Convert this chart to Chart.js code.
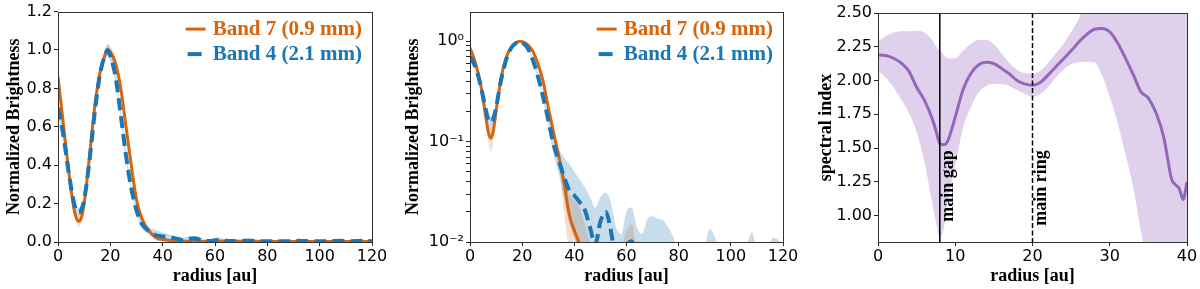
<!DOCTYPE html>
<html>
<head>
<meta charset="utf-8">
<script src="https://cdn.jsdelivr.net/npm/chart.js@4"></script>
<style>
  html, body { margin: 0; padding: 0; background: #fff; }
  #wrap { position: relative; width: 1200px; height: 289px; }
  canvas { position: absolute; top: 0; }
</style>
</head>
<body>
<div id="wrap">
  <canvas id="lin" width="400" height="289" style="left:0px"></canvas>
  <canvas id="log" width="400" height="289" style="left:400px"></canvas>
  <canvas id="alpha" width="400" height="289" style="left:800px"></canvas>
</div>
<script>
// radial profiles (normalized)
var radius = [0,2,4,6,7,8,9,10, 12,14,16,18,19,20,
  22,24,26,28,30,32,34,36,38,40,
  42,44,46,48,50,52,54,56,58,60,
  62,64,66,68,70,72,74,76,78,80,
  82,84,86,88,90,92,94,96,98,100,
  102,104,106,108,110,112,114,116,118,120];

var band7 = [0.86,0.62,0.38,0.18,0.125,0.108,0.13,0.20, 0.44,0.70,0.88,0.975,1.0,0.99,
  0.93,0.80,0.60,0.40,0.22,0.125,0.072,0.040,0.019,0.013,
  0.0095,0.006,0.0045,0.004,0.0035,0.0035,0.003,0.003,0.003,0.0035,
  0.004,0.003,0.003,0.003,0.003,0.003,0.003,0.003,0.003,0.003,
  0.003,0.003,0.003,0.003,0.003,0.003,0.003,0.003,0.003,0.003,
  0.003,0.003,0.003,0.003,0.003,0.003,0.003,0.003,0.003,0.003];
var band7Hi = [0.92,0.66,0.41,0.20,0.145,0.13,0.15,0.22, 0.47,0.73,0.91,1.0,1.03,1.02,
  0.96,0.83,0.63,0.42,0.235,0.135,0.08,0.046,0.030,0.026,
  0.022,0.015,0.010,0.008,0.007,0.007,0.007,0.008,0.009,0.013,
  0.015,0.008,0.006,0.005,0.005,0.005,0.005,0.005,0.005,0.005,
  0.005,0.005,0.005,0.005,0.005,0.005,0.005,0.005,0.005,0.005,
  0.005,0.005,0.005,0.005,0.005,0.005,0.005,0.005,0.005,0.005];
var band7Lo = [0.80,0.58,0.35,0.16,0.10,0.08,0.105,0.18, 0.41,0.67,0.85,0.95,0.97,0.96,
  0.90,0.77,0.57,0.38,0.205,0.115,0.062,0.020,0.008,0.004,
  0.002,0.001,0.001,0.001,0.001,0.001,0.001,0.001,0.001,0.001,
  0.001,0.001,0.001,0.001,0.001,0.001,0.001,0.001,0.001,0.001,
  0.001,0.001,0.001,0.001,0.001,0.001,0.001,0.001,0.001,0.001,
  0.001,0.001,0.001,0.001,0.001,0.001,0.001,0.001,0.001,0.001];

var band4 = [0.70,0.56,0.37,0.21,0.165,0.155,0.17,0.22, 0.42,0.67,0.87,0.975,1.0,0.97,
  0.86,0.66,0.45,0.28,0.165,0.095,0.065,0.045,0.033,0.029,
  0.025,0.021,0.014,0.0095,0.016,0.020,0.013,0.006,0.005,0.009,
  0.0102,0.006,0.005,0.004,0.005,0.006,0.006,0.005,0.004,0.004,
  0.004,0.004,0.004,0.004,0.005,0.006,0.005,0.004,0.004,0.004,
  0.004,0.004,0.005,0.006,0.004,0.004,0.005,0.006,0.005,0.004];
var band4Hi = [0.74,0.59,0.40,0.235,0.19,0.18,0.195,0.245, 0.45,0.70,0.90,1.0,1.03,1.0,
  0.89,0.69,0.48,0.30,0.185,0.12,0.085,0.07,0.06,0.05,
  0.042,0.035,0.028,0.022,0.028,0.031,0.025,0.014,0.012,0.020,
  0.022,0.014,0.012,0.017,0.018,0.017,0.0165,0.014,0.011,0.008,
  0.006,0.006,0.006,0.006,0.009,0.0135,0.011,0.008,0.006,0.006,
  0.006,0.007,0.009,0.0125,0.008,0.006,0.007,0.011,0.0105,0.009];
var band4Lo = [0.66,0.53,0.34,0.19,0.145,0.13,0.15,0.20, 0.39,0.64,0.84,0.95,0.97,0.94,
  0.83,0.63,0.42,0.26,0.145,0.075,0.048,0.028,0.016,0.011,
  0.008,0.005,0.003,0.002,0.003,0.004,0.002,0.001,0.001,0.001,
  0.001,0.001,0.001,0.001,0.001,0.001,0.001,0.001,0.001,0.001,
  0.001,0.001,0.001,0.001,0.001,0.001,0.001,0.001,0.001,0.001,
  0.001,0.001,0.001,0.001,0.001,0.001,0.001,0.001,0.001,0.001];

// spectral index
var radius3 = [0,0.2,1,2,3,4,5,6,7, 7.5,8,8.5,9,
  10,11,12,13,14,15,16,17,18,19,20,21,22,23,24,25,26,27,28,29,30,31,32,33,34,35,36,37,
  37.5,38,38.5,39,39.5,40];
var alpha = [2.19,2.19,2.185,2.165,2.13,2.07,1.95,1.855,1.72, 1.63,1.535,1.525,1.55,
  1.73,1.93,2.05,2.115,2.135,2.125,2.09,2.05,2.0,1.975,1.965,1.985,2.04,2.1,2.16,2.22,2.285,2.34,2.38,2.385,2.36,2.28,2.17,2.05,1.92,1.87,1.76,1.58,
  1.42,1.27,1.23,1.2,1.12,1.25];
var alphaHi = [2.6,2.3,2.33,2.355,2.365,2.365,2.368,2.355,2.3, 2.255,2.22,2.19,2.165,
  2.165,2.22,2.27,2.3,2.3,2.27,2.2,2.13,2.08,2.055,2.05,2.07,2.13,2.2,2.27,2.36,2.46,2.6,2.7,2.7,2.7,2.7,2.7,2.7,2.7,2.7,2.7,2.7,
  2.7,2.7,2.7,2.7,2.7,2.7];
var alphaLo = [0.6,2.06,2.02,1.95,1.86,1.76,1.62,1.4,1.1, 0.95,0.84,0.9,1.1,
  1.37,1.65,1.8,1.91,1.96,1.975,1.975,1.96,1.93,1.9,1.88,1.9,1.95,2.02,2.08,2.12,2.135,2.14,2.135,2.04,1.88,1.69,1.46,1.22,0.9,0.6,0.5,0.5,
  0.5,0.5,0.5,0.5,0.5,0.5];

var xTicks1 = [0,20,40,60,80,100,120];
var yTicks1 = [0,0.2,0.4,0.6,0.8,1.0,1.2];
var yTicksLog = [0.01,0.02,0.03,0.04,0.05,0.06,0.07,0.08,0.09,0.1,0.2,0.3,0.4,0.5,0.6,0.7,0.8,0.9,1];
var logLabels = {'0.01': '10\u207B\u00B2', '0.1': '10\u207B\u00B9', '1': '10\u2070'};
var xTicks3 = [0,10,20,30,40];
var yTicks3 = [1.00,1.25,1.50,1.75,2.00,2.25,2.50];
var markers = [{r: 8, text: 'main gap', dash: []}, {r: 20, text: 'main ring', dash: [5, 2.5]}];

var ORANGE = '#d8640c', BLUE = '#1a76b4', PURPLE = '#9467bd';
var TICK_FONT = {family: 'DejaVu Sans', size: 16};
var TITLE_FONT = {family: 'Liberation Serif', size: 18, weight: 'bold'};

function pts(xs, ys) {
  return xs.map(function(x, i) { return {x: x, y: ys[i]}; });
}

var boxPlugin = {
  id: 'box',
  afterDraw: function(chart) {
    var a = chart.chartArea, ctx = chart.ctx;
    ctx.save();
    ctx.strokeStyle = '#333';
    ctx.lineWidth = 1;
    ctx.strokeRect(Math.round(a.left) + 0.5, Math.round(a.top) + 0.5,
      Math.round(a.right) - Math.round(a.left), Math.round(a.bottom) - Math.round(a.top));
    ctx.restore();
  }
};

var legendPlugin = {
  id: 'bandLegend',
  afterDraw: function(chart) {
    var a = chart.chartArea, ctx = chart.ctx;
    var items = chart.data.datasets.filter(function(d) { return d.inLegend; });
    if (!items.length) return;
    ctx.save();
    ctx.font = 'bold 21px "Liberation Serif"';
    ctx.textBaseline = 'middle';
    ctx.textAlign = 'left';
    var w = Math.max.apply(null, items.map(function(d) { return ctx.measureText(d.label).width; }));
    var tx = a.right - 10 - w;
    items.forEach(function(d, i) {
      var y = a.top + 17.5 + i * 25;
      ctx.strokeStyle = d.borderColor;
      ctx.lineWidth = d.borderWidth;
      ctx.beginPath();
      if (d.borderDash) { ctx.moveTo(tx - 25, y); ctx.lineTo(tx - 11, y); }
      else { ctx.moveTo(tx - 27, y); ctx.lineTo(tx - 7, y); }
      ctx.stroke();
      ctx.fillStyle = d.borderColor;
      ctx.fillText(d.label, tx, y);
    });
    ctx.restore();
  }
};

var markerPlugin = {
  id: 'markers',
  afterDatasetsDraw: function(chart) {
    if (chart.canvas.id !== 'alpha') return;
    var xs = chart.scales.x, ys = chart.scales.y, ctx = chart.ctx, a = chart.chartArea;
    markers.forEach(function(m) {
      var px = xs.getPixelForValue(m.r);
      ctx.save();
      ctx.strokeStyle = '#000';
      ctx.lineWidth = 1.5;
      ctx.setLineDash(m.dash);
      ctx.beginPath();
      ctx.moveTo(px, a.top);
      ctx.lineTo(px, a.bottom);
      ctx.stroke();
      ctx.setLineDash([]);
      ctx.translate(px + 13, ys.getPixelForValue(1.484));
      ctx.rotate(-Math.PI / 2);
      ctx.font = 'bold 18px "Liberation Serif"';
      ctx.textAlign = 'right';
      ctx.textBaseline = 'alphabetic';
      ctx.fillStyle = '#000';
      ctx.fillText(m.text, 0, 0);
      ctx.restore();
    });
  }
};

function xAxis(min, max, ticks) {
  return {
    type: 'linear', min: min, max: max,
    afterBuildTicks: function(s) { s.ticks = ticks.map(function(v) { return {value: v}; }); },
    afterFit: function(s) { s.height = 47; },
    grid: {drawOnChartArea: false, tickLength: 4, tickColor: '#222'},
    border: {display: false},
    ticks: {font: TICK_FONT, color: '#000', padding: 1, maxRotation: 0,
      callback: function(v) { return String(v); }},
    title: {display: true, text: 'radius [au]', font: TITLE_FONT, color: '#000', padding: {top: 0, bottom: 2}}
  };
}

function yAxis(width, titlePad, text) {
  return {
    afterFit: function(s) { s.width = width; },
    grid: {drawOnChartArea: false, tickLength: 4, tickColor: '#222'},
    border: {display: false},
    ticks: {font: TICK_FONT, color: '#000', padding: 2},
    title: {display: true, text: text, font: TITLE_FONT, color: '#000', padding: {top: titlePad, bottom: 0}}
  };
}

function profileDatasets() {
  return [
    {data: pts(radius, band7Lo), borderWidth: 0, pointRadius: 0, fill: false, order: 3, clip: 0},
    {data: pts(radius, band7Hi), borderWidth: 0, pointRadius: 0, fill: '-1', backgroundColor: 'rgba(232,120,40,0.25)', order: 3, clip: 0},
    {data: pts(radius, band4Lo), borderWidth: 0, pointRadius: 0, fill: false, order: 2, clip: 0},
    {data: pts(radius, band4Hi), borderWidth: 0, pointRadius: 0, fill: '-1', backgroundColor: 'rgba(31,119,180,0.25)', order: 2, clip: 0},
    {label: 'Band 7 (0.9 mm)', inLegend: true, data: pts(radius, band7), borderColor: ORANGE, borderWidth: 3,
      pointRadius: 0, fill: false, order: 1, clip: 0, cubicInterpolationMode: 'monotone'},
    {label: 'Band 4 (2.1 mm)', inLegend: true, data: pts(radius, band4), borderColor: BLUE, borderWidth: 4,
      borderDash: [12, 6], pointRadius: 0, fill: false, order: 0, clip: 0, cubicInterpolationMode: 'monotone'}
  ];
}

var common = {
  responsive: false,
  animation: false,
  devicePixelRatio: 1,
  plugins: {legend: {display: false}, tooltip: {enabled: false}},
  elements: {line: {cubicInterpolationMode: 'monotone'}}
};

function opts(extra) {
  return Object.assign({}, common, extra);
}

// panel 1: linear
var y1 = yAxis(58, 4, 'Normalized Brightness');
y1.type = 'linear'; y1.min = 0; y1.max = 1.2;
y1.afterBuildTicks = function(s) { s.ticks = yTicks1.map(function(v) { return {value: v}; }); };
y1.ticks.callback = function(v) { return v.toFixed(1); };
new Chart(document.getElementById('lin'), {
  type: 'line',
  data: {datasets: profileDatasets()},
  options: opts({layout: {padding: {left: 0, right: 28, top: 10, bottom: 0}},
    scales: {x: xAxis(0, 120, xTicks1), y: y1}}),
  plugins: [boxPlugin, legendPlugin]
});

// panel 2: log
var y2 = yAxis(70, 3, 'Normalized Brightness');
y2.type = 'logarithmic'; y2.min = 0.01; y2.max = 1.97;
y2.afterBuildTicks = function(s) { s.ticks = yTicksLog.map(function(v) { return {value: v}; }); };
y2.ticks.callback = function(v) { return logLabels[String(v)] || ''; };
y2.ticks.autoSkip = false;
new Chart(document.getElementById('log'), {
  type: 'line',
  data: {datasets: profileDatasets()},
  options: opts({layout: {padding: {left: 0, right: 17, top: 10, bottom: 0}},
    scales: {x: xAxis(0, 120, xTicks1), y: y2}}),
  plugins: [boxPlugin, legendPlugin]
});

// panel 3: spectral index
var y3 = yAxis(78, 16, 'spectral index');
y3.type = 'linear'; y3.min = 0.805; y3.max = 2.5;
y3.afterBuildTicks = function(s) { s.ticks = yTicks3.map(function(v) { return {value: v}; }); };
y3.ticks.callback = function(v) { return v.toFixed(2); };
new Chart(document.getElementById('alpha'), {
  type: 'line',
  data: {datasets: [
    {data: pts(radius3, alphaLo), borderWidth: 0, pointRadius: 0, fill: false, order: 2, clip: 0, tension: 0},
    {data: pts(radius3, alphaHi), borderWidth: 0, pointRadius: 0, fill: '-1', backgroundColor: 'rgba(148,103,189,0.3)', order: 2, clip: 0, tension: 0},
    {data: pts(radius3, alpha), borderColor: PURPLE, borderWidth: 3, pointRadius: 0, fill: false, order: 0, clip: 0}
  ]},
  options: opts({layout: {padding: {left: 0, right: 13, top: 13, bottom: 0}},
    scales: {x: xAxis(0, 40, xTicks3), y: y3}}),
  plugins: [boxPlugin, markerPlugin]
});
</script>
</body>
</html>
